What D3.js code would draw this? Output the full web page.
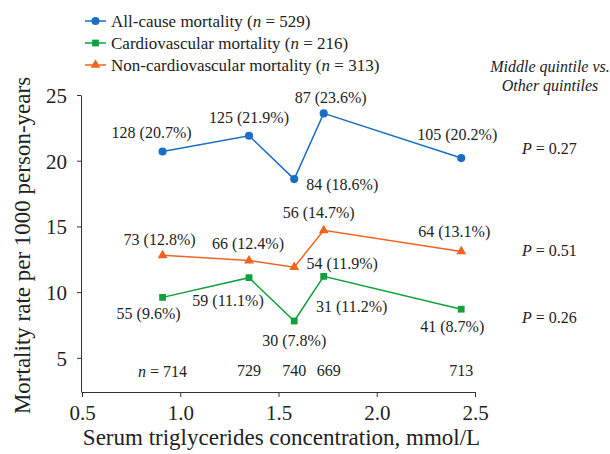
<!DOCTYPE html>
<html>
<head>
<meta charset="utf-8">
<script src="https://cdn.jsdelivr.net/npm/d3@7"></script>
<style>
    body { margin: 0; background: #fff; }
    svg text { font-family: "Liberation Serif", "Times New Roman", serif; }
    .axis path, .axis line { stroke: #333; }
    .axis text { fill: #222; font-size: 21px; }
</style>
</head>
<body>
<div id="chart"></div>
<script>
// Serum triglycerides quintiles vs mortality rate

const tgMedians = [0.91, 1.35, 1.58, 1.73, 2.43];   // mmol/L, x positions
const quintileN = [714, 729, 740, 669, 713];

const allCauseRate = [20.7, 21.9, 18.6, 23.6, 20.2];
const allCauseDeaths = [128, 125, 84, 87, 105];
const cvdRate = [9.6, 11.1, 7.8, 11.2, 8.7];
const cvdDeaths = [55, 59, 30, 31, 41];
const nonCvdRate = [12.8, 12.4, 11.9, 14.7, 13.1];
const nonCvdDeaths = [73, 66, 54, 56, 64];

const legendLabels = [
    ['All-cause mortality (', 'n', ' = 529)'],
    ['Cardiovascular mortality (', 'n', ' = 216)'],
    ['Non-cardiovascular mortality (', 'n', ' = 313)'],
];
const pValues = ['0.27', '0.51', '0.26'];
const xTicks = [0.5, 1.0, 1.5, 2.0, 2.5];
const yTicks = [5, 10, 15, 20, 25];

// label offsets from each point (layout only)
const labelOffsets = {
    all: [[-11, -19], [0, -18], [48, 5], [7, -16], [-4, -24]],
    non: [[-3, -16], [-1, -17], [48, -4], [-5, -18], [-7, -20]],
    cvd: [[-14, 16], [-21, 23], [0, 19], [28, 30], [-9, 17]],
};
const nOffsets = [0, 0, 0, 5, 0];

const series = [
    { key: 'all', rate: allCauseRate, deaths: allCauseDeaths, color: '#1a6fc4', symbol: d3.symbolCircle, size: 52 },
    { key: 'cvd', rate: cvdRate, deaths: cvdDeaths, color: '#12a03c', symbol: d3.symbolSquare, size: 46 },
    { key: 'non', rate: nonCvdRate, deaths: nonCvdDeaths, color: '#f0641e', symbol: d3.symbolTriangle, size: 42 },
];

const width = 610, height = 454;

const svg = d3.select('#chart').append('svg')
    .attr('width', width)
    .attr('height', height);

const x = d3.scaleLinear().domain([0.5, 2.5]).range([82, 475]);
const y = d3.scaleLinear().domain([2.4, 25]).range([392, 95]);

// Axes
const xAxisG = svg.append('g')
    .attr('class', 'axis')
    .attr('transform', `translate(0,${y.range()[0]})`)
    .call(d3.axisBottom(x).tickValues(xTicks).tickFormat(d3.format('.1f')).tickSize(5).tickSizeOuter(0).tickPadding(4));

const yAxisG = svg.append('g')
    .attr('class', 'axis')
    .attr('transform', `translate(${x.range()[0] - 1},0)`)
    .call(d3.axisLeft(y).tickValues(yTicks).tickSize(4).tickSizeOuter(0).tickPadding(10));

yAxisG.selectAll('text').attr('dy', '0.36em');
xAxisG.selectAll('text').attr('dy', '0.9em');

// Axis titles
svg.append('text')
    .attr('x', (x.range()[0] + x.range()[1]) / 2 + 3)
    .attr('y', 445)
    .attr('text-anchor', 'middle')
    .style('font-size', '23px')
    .style('fill', '#222')
    .text('Serum triglycerides concentration, mmol/L');

svg.append('text')
    .attr('transform', `translate(30,${(y.range()[0] + y.range()[1]) / 2 + 2}) rotate(-90)`)
    .attr('text-anchor', 'middle')
    .style('font-size', '23px')
    .style('fill', '#222')
    .text('Mortality rate per 1000 person-years');

// Lines, markers and labels
const line = d3.line()
    .x((d, i) => x(tgMedians[i]))
    .y(d => y(d));

series.forEach(s => {
    const g = svg.append('g');

    g.append('path')
        .datum(s.rate)
        .attr('d', line)
        .attr('fill', 'none')
        .attr('stroke', s.color)
        .attr('stroke-width', 1.5);

    g.selectAll('path.marker')
        .data(s.rate)
        .enter()
        .append('path')
        .attr('class', 'marker')
        .attr('d', d3.symbol().type(s.symbol).size(s.size))
        .attr('transform', (d, i) => `translate(${x(tgMedians[i])},${y(d)})`)
        .attr('fill', s.color);

    g.selectAll('text')
        .data(s.rate)
        .enter()
        .append('text')
        .attr('x', (d, i) => x(tgMedians[i]) + labelOffsets[s.key][i][0])
        .attr('y', (d, i) => y(d) + labelOffsets[s.key][i][1])
        .attr('text-anchor', 'middle')
        .attr('dominant-baseline', 'central')
        .style('font-size', '16px')
        .style('fill', '#222')
        .text((d, i) => `${s.deaths[i]} (${d.toFixed(1)}%)`);
});

// n per quintile
const nText = svg.append('g').selectAll('text')
    .data(quintileN)
    .enter()
    .append('text')
    .attr('x', (d, i) => x(tgMedians[i]) + nOffsets[i])
    .attr('y', y(4.0))
    .attr('text-anchor', 'middle')
    .attr('dominant-baseline', 'central')
    .style('font-size', '16px')
    .style('fill', '#222');

nText.each(function(d, i) {
    const t = d3.select(this);
    if (i === 0) {
        t.append('tspan').style('font-style', 'italic').text('n');
        t.append('tspan').text(` = ${d}`);
    } else {
        t.text(d);
    }
});

// Legend
const legend = svg.append('g');
series.forEach((s, i) => {
    const ly = 21 + i * 22;
    legend.append('line')
        .attr('x1', 85).attr('x2', 106)
        .attr('y1', ly).attr('y2', ly)
        .attr('stroke', s.color)
        .attr('stroke-width', 1.5);
    legend.append('path')
        .attr('d', d3.symbol().type(s.symbol).size(s.size))
        .attr('transform', `translate(95.5,${ly})`)
        .attr('fill', s.color);
    const t = legend.append('text')
        .attr('x', 111)
        .attr('y', ly)
        .attr('dominant-baseline', 'central')
        .style('font-size', '17px')
        .style('fill', '#222');
    t.append('tspan').text(legendLabels[i][0]);
    t.append('tspan').style('font-style', 'italic').text(legendLabels[i][1]);
    t.append('tspan').text(legendLabels[i][2]);
});

// P values (middle quintile vs others)
const note = svg.append('g')
    .style('font-size', '16px')
    .style('fill', '#222');

note.append('text')
    .attr('x', 550).attr('y', 66)
    .attr('text-anchor', 'middle')
    .attr('dominant-baseline', 'central')
    .style('font-style', 'italic')
    .text('Middle quintile vs.');
note.append('text')
    .attr('x', 550).attr('y', 85)
    .attr('text-anchor', 'middle')
    .attr('dominant-baseline', 'central')
    .style('font-style', 'italic')
    .text('Other quintiles');

const pY = [148, 250, 317];
pValues.forEach((p, i) => {
    const t = note.append('text')
        .attr('x', 522).attr('y', pY[i])
        .attr('dominant-baseline', 'central');
    t.append('tspan').style('font-style', 'italic').text('P');
    t.append('tspan').text(` = ${p}`);
});
</script>
</body>
</html>
